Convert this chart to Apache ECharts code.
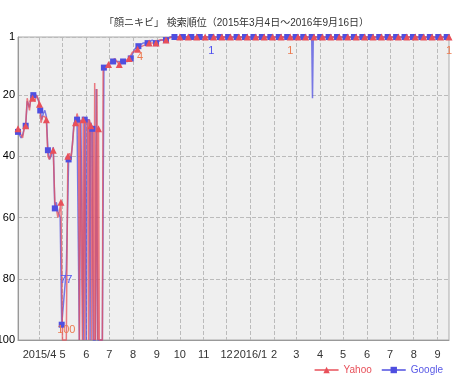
<!DOCTYPE html>
<html><head><meta charset="utf-8">
<script src="https://cdn.jsdelivr.net/npm/echarts@6/dist/echarts.min.js"></script>
<style>html,body{margin:0;padding:0;background:#fff}#c{width:453px;height:385px}</style>
</head><body><div id="c"></div>
<script>
const titleText = '「顔ニキビ」 検索順位（2015年3月4日～2016年9月16日）';

const yahooDates = ['2015-03-04','2015-03-06','2015-03-08','2015-03-10','2015-03-12','2015-03-14','2015-03-16','2015-03-18','2015-03-19','2015-03-21','2015-03-23','2015-03-26','2015-03-28','2015-03-30','2015-04-01','2015-04-03','2015-04-05','2015-04-08','2015-04-10','2015-04-12','2015-04-14','2015-04-16','2015-04-19','2015-04-21','2015-04-23','2015-04-25','2015-04-27','2015-04-29','2015-05-01','2015-05-06','2015-05-08','2015-05-10','2015-05-12','2015-05-14','2015-05-16','2015-05-18','2015-05-20','2015-05-22','2015-05-23','2015-05-24','2015-05-26','2015-05-27','2015-05-28','2015-05-30','2015-05-31','2015-06-03','2015-06-04','2015-06-05','2015-06-07','2015-06-08','2015-06-10','2015-06-11','2015-06-12','2015-06-13','2015-06-15','2015-06-16','2015-06-17','2015-06-18','2015-06-22','2015-06-23','2015-06-30','2015-07-08','2015-07-14','2015-07-21','2015-07-27','2015-07-31','2015-08-07','2015-08-10','2015-08-13','2015-08-22','2015-08-31','2015-09-04','2015-09-13','2015-09-20','2015-10-01','2015-10-12','2015-10-23','2015-11-03','2015-11-14','2015-11-25','2015-12-06','2015-12-17','2015-12-28','2016-01-08','2016-01-19','2016-01-30','2016-02-10','2016-02-22','2016-03-03','2016-03-13','2016-03-24','2016-04-04','2016-04-15','2016-04-26','2016-05-07','2016-05-18','2016-05-29','2016-06-09','2016-06-20','2016-07-01','2016-07-12','2016-07-23','2016-08-03','2016-08-14','2016-08-25','2016-09-05','2016-09-16'];
const yahooRanks = [31,31,33,34,31,30,21,21,25,20,21,22,20,21,23,29,27,27,28,40,41,39,38,55,57,60,58,55,100,100,40,39,41,36,30,29,26,28,100,28,28,100,28,100,28,28,100,28,30,100,31,100,16,100,18,100,31,100,100,11,10,8,10,9,8,6,5,4,4,3,3,2,2,1,1,1,1,1,1,1,1,1,1,1,1,1,1,1,1,1,1,1,1,1,1,1,1,1,1,1,1,1,1,1,1,1,1];
const yahooLabelDates = ['2015-05-06','2015-08-10','2016-02-22','2016-09-16'];

const googleDates = ['2015-03-04','2015-03-06','2015-03-08','2015-03-10','2015-03-12','2015-03-14','2015-03-16','2015-03-17','2015-03-19','2015-03-21','2015-03-24','2015-03-28','2015-03-31','2015-04-02','2015-04-04','2015-04-06','2015-04-08','2015-04-10','2015-04-12','2015-04-14','2015-04-16','2015-04-19','2015-04-21','2015-04-23','2015-04-25','2015-04-28','2015-04-30','2015-05-06','2015-05-09','2015-05-12','2015-05-14','2015-05-16','2015-05-20','2015-05-22','2015-05-23','2015-05-25','2015-05-27','2015-05-28','2015-05-30','2015-06-01','2015-06-02','2015-06-05','2015-06-06','2015-06-07','2015-06-09','2015-06-10','2015-06-13','2015-06-14','2015-06-15','2015-06-16','2015-06-22','2015-06-24','2015-06-30','2015-07-06','2015-07-13','2015-07-19','2015-07-25','2015-07-29','2015-08-03','2015-08-08','2015-08-14','2015-08-20','2015-08-26','2015-08-31','2015-09-06','2015-09-13','2015-09-18','2015-09-24','2015-10-05','2015-10-16','2015-10-27','2015-11-11','2015-11-22','2015-12-03','2015-12-14','2015-12-25','2016-01-05','2016-01-16','2016-01-27','2016-02-07','2016-02-18','2016-02-29','2016-03-10','2016-03-21','2016-03-22','2016-03-23','2016-04-01','2016-04-12','2016-04-23','2016-05-04','2016-05-15','2016-05-26','2016-06-06','2016-06-17','2016-06-28','2016-07-09','2016-07-20','2016-07-31','2016-08-11','2016-08-22','2016-09-02','2016-09-13','2016-09-16'];
const googleRanks = [32,32,34,33,31,30,22,22,24,21,20,20,22,25,28,26,25,27,38,41,40,37,57,55,58,60,95,77,41,41,36,29,28,28,100,28,28,100,28,100,28,28,100,29,31,100,100,18,18,100,100,11,10,9,9,9,9,8,5,4,3,3,2,3,2,2,1,1,1,1,1,1,1,1,1,1,1,1,1,1,1,1,1,1,21,1,1,1,1,1,1,1,1,1,1,1,1,1,1,1,1,1,1];
const googleLabelDates = ['2015-05-06','2015-11-11'];

const yTickValues = [1,20,40,60,80,100];
const xTickDates = ['2015-04-01','2015-05-01','2015-06-01','2015-07-01','2015-08-01','2015-09-01','2015-10-01','2015-11-01','2015-12-01','2016-01-01','2016-02-01','2016-03-01','2016-04-01','2016-05-01','2016-06-01','2016-07-01','2016-08-01','2016-09-01'];
const xTickLabels = ['2015/4','5','6','7','8','9','10','11','12','2016/1','2','3','4','5','6','7','8','9'];

const DAY = 86400000;
const ts = d => { const p = d.split('-').map(Number); return Date.UTC(p[0], p[1]-1, p[2]); };
const xTickTs = xTickDates.map(ts);
const labelByTs = {};
xTickTs.forEach((t,i)=>{ labelByTs[t] = xTickLabels[i]; });

function build(dates, ranks, labelDates, labelColor) {
  let last = -Infinity;
  return dates.map((d,i)=>{
    const t = ts(d), v = ranks[i];
    const item = {value:[t, v]};
    if (v >= 100 || t - last < 9*DAY) item.symbolSize = 0; else last = t;
    if (labelDates.indexOf(d) >= 0) {
      item.label = {show:true, position: v >= 100 ? 'top' : 'bottom', distance: 5,
        formatter: String(v), color: labelColor, fontSize: 11};
    }
    return item;
  });
}

const FONT = '"Liberation Sans", "Noto Sans CJK JP", sans-serif';
const chart = echarts.init(document.getElementById('c'));
chart.setOption({
  animation:false,
  textStyle:{fontFamily:FONT},
  title:{text:titleText, left:99, top:13, textStyle:{fontSize:10, fontWeight:'normal', color:'#333', fontFamily:FONT}},
  grid:{left:18, right:4, top:37, bottom:45, containLabel:false, outerBoundsMode:'none',
    show:true, backgroundColor:'#efefef', borderColor:'#aaa', borderWidth:1},
  legend:{right:5, bottom:5, itemWidth:24, itemHeight:8, itemGap:9,
    data:[{name:'Yahoo', textStyle:{color:'#e8505a'}},{name:'Google', textStyle:{color:'#5858e6'}}],
    textStyle:{fontSize:10, fontFamily:FONT}},
  xAxis:{type:'value', min:ts('2015-03-04'), max:ts('2016-09-16'), scale:true,
    axisLine:{lineStyle:{color:'#999'}},
    axisTick:{show:false, customValues:xTickTs},
    axisLabel:{customValues:xTickTs, formatter:v=>labelByTs[v]||'', color:'#333', fontSize:11, margin:9, hideOverlap:false},
    splitLine:{show:true, lineStyle:{type:'dashed', color:'#bbb'}}},
  yAxis:{type:'value', inverse:true, min:1, max:100,
    axisLine:{show:true, lineStyle:{color:'#999'}},
    axisTick:{show:false, customValues:yTickValues},
    axisLabel:{customValues:yTickValues, color:'#000', fontSize:11, margin:3},
    splitLine:{show:true, lineStyle:{type:'dashed', color:'#bbb'}}},
  series:[
    {name:'Google', type:'line', clip:false, symbol:'rect', symbolSize:6,
      color:'#4f4fe0', lineStyle:{width:1.5, opacity:0.75},
      data: build(googleDates, googleRanks, googleLabelDates, '#5050f0')},
    {name:'Yahoo', type:'line', clip:false, symbol:'triangle', symbolSize:7,
      color:'#e8505a', lineStyle:{width:1.5, opacity:0.75},
      data: build(yahooDates, yahooRanks, yahooLabelDates, '#ec7a50')}
  ]
});
</script></body></html>
